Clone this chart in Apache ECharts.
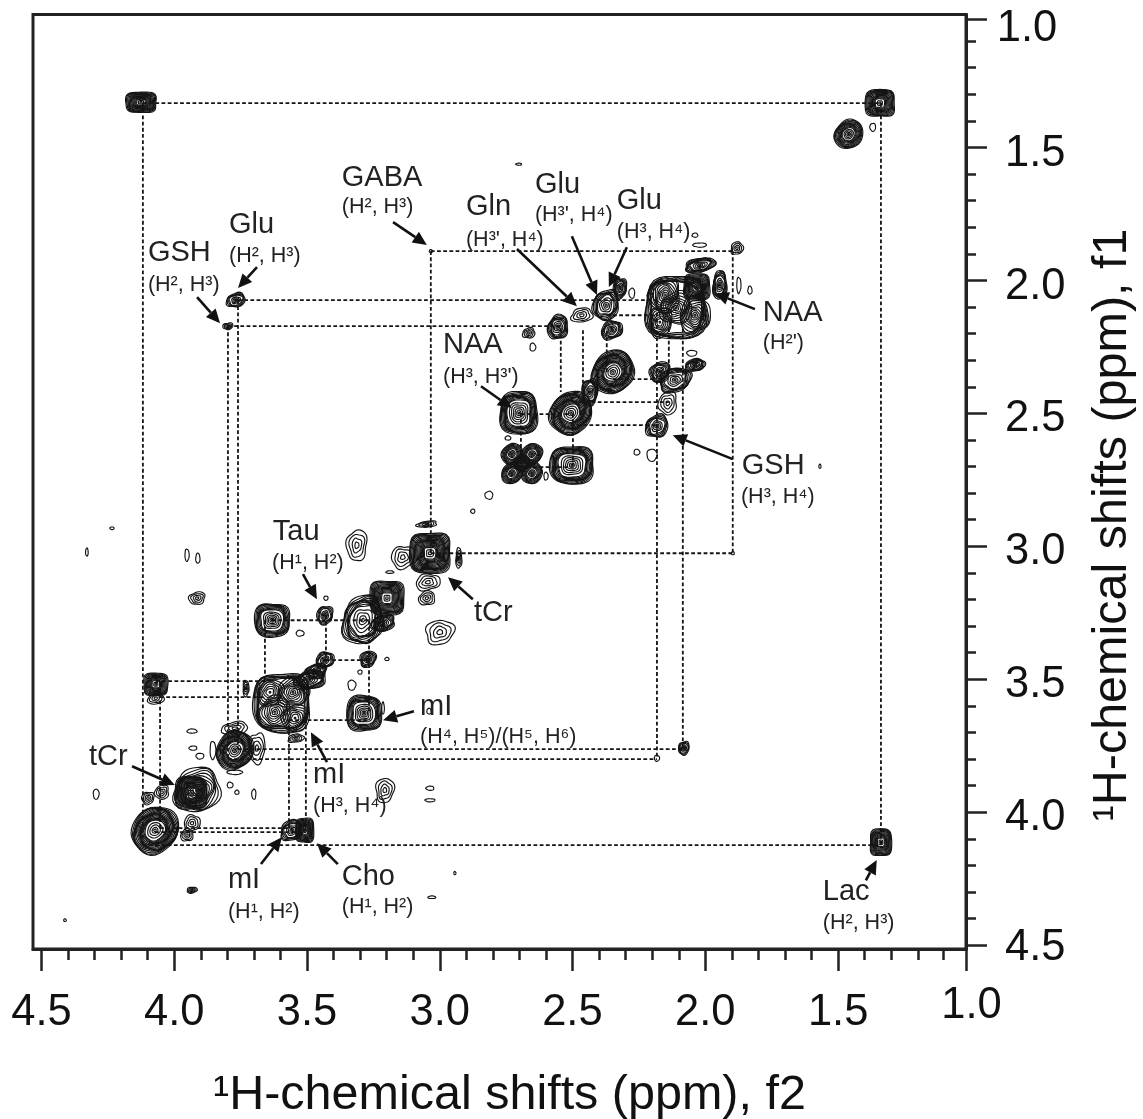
<!DOCTYPE html>
<html><head><meta charset="utf-8">
<style>html,body{margin:0;padding:0;background:#fff}#c{width:1143px;height:1119px}</style>
<script src="https://cdn.jsdelivr.net/npm/echarts@6/dist/echarts.min.js"></script>
</head><body><div id="c"></div>
<script>
// All peak rows: [f2 ppm, f1 ppm, half-width f2 ppm, half-width f1 ppm]
const squarePeaks = [
 [2.019,2.025,.049,.049],[3.029,3.026,.076,.075],[3.192,3.195,.064,.064],[3.934,3.928,.06,.06],
 [1.326,1.333,.055,.05],[4.123,1.33,.057,.038],[4.067,3.519,.045,.042],[1.322,4.113,.04,.05],[3.503,4.068,.034,.045]
];
const diamondPeaks = [
 [2.337,2.345,.082,.082],[2.496,2.499,.082,.082],[4.07,4.068,.09,.09],[3.768,3.767,.072,.074],[1.444,1.45,.055,.055],
 [2.719,2.653,.04,.04],[2.643,2.653,.04,.04],[2.719,2.725,.04,.04],[2.643,2.725,.04,.04],[2.681,2.687,.03,.03]
];
const roundPeaks = [
 [2.693,2.499,.07,.08],[2.492,2.695,.082,.07],[3.627,3.278,.066,.062],[3.279,3.628,.066,.066]
];
const widePeaks = [
 [2.098,2.104,.114,.117],[3.59,3.59,.106,.11]
];
const stripedPeaks = [
 [3.911,3.917,.087,.083],[2.14,2.055,.057,.068],[2.159,2.157,.045,.057],[2.026,2.131,.057,.068],
 [3.616,3.624,.06,.06],[3.54,3.646,.05,.05],[3.635,3.549,.05,.05],[3.548,3.549,.06,.056],[2.098,2.104,.06,.06]
];
const mediumPeaks = [
 [3.283,3.278,.076,.09],[2.363,2.093,.049,.056],[2.31,2.029,.025,.038],[2.341,2.187,.04,.034],[2.545,2.176,.038,.045],
 [2.159,2.345,.038,.038],[2.102,2.375,.06,.045],[2.026,2.319,.038,.023],[2.17,2.548,.042,.042],[2.424,2.42,.03,.05],
 [2.007,1.943,.057,.026],[1.932,2.018,.026,.053],[3.207,3.289,.045,.03],[3.427,3.259,.03,.034],[3.427,3.428,.034,.03],
 [3.484,3.503,.06,.035],[3.46,3.47,.04,.028],[3.264,3.424,.03,.03],[3.552,4.068,.042,.038],[3.764,2.074,.035,.026],[2.068,3.759,.02,.025]
];
const weakPeaks = [
 [2.454,2.131,.04,.026],[2.129,2.462,.034,.042],[3.132,3.041,.042,.042],[3.037,3.135,.045,.03],[3.041,3.195,.03,.026],
 [3.306,2.996,.038,.057],[2.992,3.323,.053,.045],[3.537,3.722,.03,.015],[3.768,3.684,.049,.023],[3.684,3.759,.03,.057],
 [3.726,3.534,.011,.03],[4.067,3.571,.03,.023],[4.044,3.925,.026,.026],[4.097,3.947,.023,.023],[3.93,4.041,.03,.03],
 [3.949,4.086,.023,.023],[3.911,3.195,.03,.023],[3.2,3.917,.034,.045],[1.867,1.879,.023,.023],[2.655,2.198,.023,.019],
 [3.794,2.172,.019,.012],[3.93,4.293,.019,.011],[2.92,3.045,.011,.038],[3.041,2.917,.038,.011]
];
const tinyPeaks = [
 [3.181,3.097,.015,.005],[2.867,2.868,.008,.008],[3.423,3.195,.008,.008],[3.521,3.327,.015,.011],[3.192,3.424,.008,.006],
 [3.294,3.473,.008,.008],[3.325,3.522,.015,.019],[3.207,3.609,.005,.023],[3.033,3.62,.008,.011],[3.768,3.85,.03,.008],
 [3.851,3.767,.011,.034],[3.93,3.695,.019,.008],[3.926,3.759,.015,.008],[3.9,3.789,.015,.011],[3.786,3.898,.011,.011],
 [3.76,3.925,.008,.008],[3.696,3.932,.008,.019],[4.293,3.932,.011,.019],[4.411,4.406,.005,.005],[4.328,3.022,.005,.015],
 [4.233,2.932,.008,.005],[3.949,3.033,.008,.023],[3.908,3.045,.008,.019],[3.029,3.91,.015,.008],[3.029,3.955,.019,.006],
 [2.935,4.229,.004,.006],[3.022,4.32,.015,.005],[2.265,2.048,.011,.019],[2.197,2.059,.011,.011],[2.64,2.251,.011,.015],
 [2.026,1.83,.011,.008],[2.008,1.867,.026,.008],[1.86,2.018,.008,.03],[1.818,2.037,.008,.015],[2.693,1.563,.011,.004],
 [2.038,2.274,.019,.011],[2.59,2.736,.008,.015],[2.734,2.593,.011,.008],[2.806,2.808,.015,.015],[2.189,2.657,.019,.023],
 [2.246,2.646,.011,.011],[1.553,2.699,.004,.008],[1.353,1.424,.011,.015],[2.17,3.797,.01,.011],[3.026,1.89,.006,.006],[1.883,3.026,.006,.006]
];
// Dashed connectors: [f1, f2 start, f2 end]
const horizontalGuides = [
 [1.333,4.116,1.322],[4.124,4.116,1.322],[1.89,3.026,1.883],[3.026,3.026,1.883],[2.074,3.756,2.17],[2.172,3.794,2.534],
 [3.8,3.794,2.17],[3.763,3.756,2.072],[2.131,2.36,2.17],[2.371,2.337,2.17],[2.458,2.488,2.125],[2.544,2.496,2.17],
 [2.503,2.685,2.496],[2.702,2.685,2.492],[3.278,3.627,3.26],[3.428,3.423,3.26],[3.654,3.563,3.26],[3.507,4.067,3.654],
 [3.567,4.051,3.654],[4.06,4.051,3.563],[4.075,4.07,3.5]
];
// Dashed connectors: [f2, f1 start, f1 end]
const verticalGuides = [
 [4.116,1.333,4.124],[1.322,1.333,4.124],[3.026,1.89,3.026],[1.883,1.89,3.026],[3.756,2.074,3.763],[3.794,2.172,3.8],
 [2.17,2.074,3.8],[2.072,2.18,3.763],[2.125,2.18,2.34],[2.534,2.18,2.42],[2.45,2.187,2.386],[2.36,2.19,2.345],
 [2.685,2.499,2.69],[2.488,2.5,2.7],[3.654,3.278,3.507],[3.423,3.26,3.43],[3.26,3.28,3.63],[4.051,3.51,4.07],
 [3.563,3.65,4.07],[3.499,3.65,4.07]
];
// Annotation arrows: [f2 from, f1 from, f2 to, f1 to]
const arrows = [
 [3.911,2.063,3.824,2.161],[3.684,1.95,3.756,2.029],[3.169,1.781,3.041,1.867],[2.7,1.882,2.473,2.097],[2.492,1.834,2.397,2.055],
 [2.284,1.875,2.352,2.025],[1.799,2.108,1.951,2.048],[2.836,2.398,2.719,2.48],[1.883,2.672,2.11,2.582],[3.51,3.105,3.457,3.199],
 [2.867,3.199,2.961,3.116],[3.09,3.62,3.207,3.654],[3.419,3.812,3.48,3.699],[4.157,3.827,3.995,3.898],[3.669,4.195,3.59,4.094],
 [3.378,4.195,3.457,4.117],[1.379,4.256,1.338,4.18]
];
const nameTexts = ['GSH','Glu','GABA','Gln','Glu','Glu','NAA','NAA','GSH','Tau','tCr','mI','mI','tCr','mI','Cho','Lac'];
const nameSpots = [[4.097,1.898],[3.79,1.792],[3.363,1.615],[2.893,1.725],[2.632,1.642],[2.322,1.702],[1.769,2.123],[2.98,2.244],
 [1.849,2.699],[3.624,2.947],[2.863,3.251],[3.067,3.605],[3.472,3.861],[4.32,3.793],[3.794,4.256],[3.363,4.244],[1.542,4.301]];
const subTexts = ['(H², H³)','(H², H³)','(H², H³)',"(H³', H⁴)","(H³', H⁴)",'(H³, H⁴)',"(H²')","(H³, H³')",'(H³, H⁴)','(H¹, H²)',
 '(H⁴, H⁵)/(H⁵, H⁶)','(H³, H⁴)','(H¹, H²)','(H¹, H²)','(H², H³)'];
const subSpots = [[4.097,2.018],[3.79,1.909],[3.363,1.725],[2.893,1.849],[2.632,1.755],[2.322,1.819],[1.769,2.236],[2.98,2.364],
 [1.852,2.815],[3.627,3.063],[3.067,3.718],[3.472,3.977],[3.794,4.376],[3.363,4.357],[1.542,4.417]];
// Axis ticks, at the places they are printed in the figure
const xMajor = [4.5,3.997,3.495,2.992,2.49,1.987,1.484,1.0];
const xLabelled = [4.5,3.997,3.495,2.992,2.49,1.987,1.484];
const xMinor = [4.3995,4.2989,4.1984,4.0979,3.8968,3.7963,3.6958,3.5952,3.3942,3.2936,3.1931,3.0926,2.8915,2.791,2.6905,2.5899,2.3889,2.2883,2.1878,2.0873,1.8862,1.7857,1.6852,1.5846,1.3836,1.283,1.1825,1.088];
const yMajor = [1.018,1.5,2.0,2.5,3.0,3.5,4.0,4.5];
const yLabelled = [1.524,2.023,2.52,3.02,3.52,4.02,4.51];
const yMinor = [1.1,1.2,1.3,1.4,1.6,1.7,1.8,1.9,2.1,2.2,2.3,2.4,2.6,2.7,2.8,2.9,3.1,3.2,3.3,3.4,3.6,3.7,3.8,3.9,4.1,4.2,4.3,4.4];
const xTitle = '¹H-chemical shifts (ppm), f2';
const yTitle = '¹H-chemical shifts (ppm), f1';
const endTick = '1.0';

const INK = '#141414', FONT = '"Liberation Sans", Arial, sans-serif';
const looks = {
 square:{exp:4.5,wob:.02,shear:0,to:.28,step:.9,inner:[.17,.07]},
 diamond:{exp:1.9,wob:.03,shear:.14,to:.42,step:.9,inner:[.32,.22,.12,.05]},
 round:{exp:3.2,wob:.03,shear:0,to:.6,step:.9,inner:[.49,.39,.29,.2,.11,.04]},
 wide:{exp:3.4,wob:.035,shear:0,to:.8,step:.9,inner:[]},
 striped:{exp:2.2,wob:.07,shear:.1,to:.15,step:1.9,inner:[.06]},
 medium:{exp:2.3,wob:.07,shear:.16,to:.62,step:.9,inner:[.46,.32,.18,.07]},
 weak:{exp:2.3,wob:.08,shear:.1,to:1,step:9,inner:[.74,.46,.2]},
 tiny:{exp:2,wob:.05,shear:0,to:1,step:9,inner:[]}
};
function contourSeries(rows,look){
 return {type:'custom',coordinateSystem:'cartesian2d',xAxisIndex:0,yAxisIndex:0,silent:true,clip:true,animation:false,
  data:rows,encode:{x:0,y:1},
  renderItem(params,api){
   const cx=api.value(0),cy=api.value(1),wx=api.value(2),wy=api.value(3),idx=params.dataIndex,children=[];
   const frac=look.step/(Math.max(wx,wy)*265),levels=[];
   for(let v=1;v>=look.to-1e-6;v-=frac)levels.push(v);
   look.inner.forEach(v=>levels.push(v));
   levels.forEach((lv,k)=>{
    const pts=[],N=36;
    for(let i=0;i<N;i++){
     const t=i/N*2*Math.PI,c=Math.cos(t),s=Math.sin(t);
     const base=Math.pow(Math.pow(Math.abs(c),look.exp)+Math.pow(Math.abs(s),look.exp),-1/look.exp);
     const lobes=1+look.wob*Math.sin(3*t+idx*1.7+k*.9)+look.wob*.6*Math.sin(5*t+idx*.6-k*.5);
     const r=base*lobes*lv,dx=wx*r*c,dy=wy*r*s;
     pts.push(api.coord([cx+dx,cy+dy+look.shear*dx]));
    }
    children.push({type:'polygon',shape:{points:pts},style:{fill:null,stroke:INK,lineWidth:1.15}});
   });
   return {type:'group',children};
  }};
}
function guideSeries(rows,horizontal){
 return {type:'custom',coordinateSystem:'cartesian2d',xAxisIndex:0,yAxisIndex:0,silent:true,animation:false,z:3,
  data:rows,encode:horizontal?{x:[1,2],y:0}:{x:0,y:[1,2]},
  renderItem(params,api){
   const a=api.value(0),b=api.value(1),c=api.value(2);
   const p=horizontal?api.coord([b,a]):api.coord([a,b]),q=horizontal?api.coord([c,a]):api.coord([a,c]);
   return {type:'line',shape:{x1:p[0],y1:p[1],x2:q[0],y2:q[1]},style:{stroke:INK,lineWidth:1.8,lineDash:[3.8,2.4],fill:null}};
  }};
}
const arrowSeries={type:'custom',coordinateSystem:'cartesian2d',xAxisIndex:0,yAxisIndex:0,silent:true,animation:false,z:6,
 data:arrows,encode:{x:[0,2],y:[1,3]},
 renderItem(params,api){
  const p=api.coord([api.value(0),api.value(1)]),q=api.coord([api.value(2),api.value(3)]);
  const dx=q[0]-p[0],dy=q[1]-p[1],L=Math.hypot(dx,dy),ux=dx/L,uy=dy/L,hl=14,hw=6.5;
  const bx=q[0]-ux*hl,by=q[1]-uy*hl;
  return {type:'group',children:[
   {type:'line',shape:{x1:p[0],y1:p[1],x2:bx,y2:by},style:{stroke:'#111',lineWidth:2.6,fill:null}},
   {type:'polygon',shape:{points:[q,[bx-uy*hw,by+ux*hw],[bx+uy*hw,by-ux*hw]]},style:{fill:'#111',stroke:null}}
  ]};
 }};
function textSeries(spots,texts,size){
 return {type:'custom',coordinateSystem:'cartesian2d',xAxisIndex:0,yAxisIndex:0,silent:true,animation:false,z:7,
  data:spots,encode:{x:0,y:1},
  renderItem(params,api){
   const p=api.coord([api.value(0),api.value(1)]);
   return {type:'text',style:{text:texts[params.dataIndex],x:p[0],y:p[1],fill:'#222',font:size+'px '+FONT,textAlign:'left',textVerticalAlign:'middle'}};
  }};
}
const fmt=v=>(Math.round(Number(v)*2)/2).toFixed(1);
const fmtDown=v=>(Math.floor(Number(v)*2)/2).toFixed(1);
const axisFont={fontFamily:FONT,color:'#111',fontSize:43.5};
const chart=echarts.init(document.getElementById('c'),null,{renderer:'canvas'});
chart.setOption({
 animation:false,backgroundColor:'#fff',
 grid:{left:33,top:14.5,width:933,height:934.5,show:true,borderColor:'#222',borderWidth:3,backgroundColor:'transparent',containLabel:false},
 xAxis:[
  {type:'value',inverse:true,min:1.0,max:4.532,position:'bottom',splitLine:{show:false},
   axisLine:{show:true,lineStyle:{color:'#222',width:3}},
   axisTick:{show:true,customValues:xMajor,length:22,lineStyle:{color:'#222',width:2.5}},
   axisLabel:{show:true,customValues:xLabelled,formatter:fmt,margin:42,...axisFont}},
  {type:'value',inverse:true,min:1.0,max:4.532,position:'bottom',splitLine:{show:false},
   axisLine:{show:false},
   axisTick:{show:true,customValues:xMinor,length:11,lineStyle:{color:'#222',width:2.5}},
   axisLabel:{show:false}}
 ],
 yAxis:[
  {type:'value',inverse:true,min:1.0,max:4.5144,position:'right',splitLine:{show:false},
   axisLine:{show:true,lineStyle:{color:'#222',width:3}},
   axisTick:{show:true,customValues:yMajor,length:21,lineStyle:{color:'#222',width:2.5}},
   axisLabel:{show:true,customValues:yLabelled,formatter:fmtDown,margin:39,...axisFont}},
  {type:'value',inverse:true,min:1.0,max:4.5144,position:'right',splitLine:{show:false},
   axisLine:{show:false},
   axisTick:{show:true,customValues:yMinor,length:10,lineStyle:{color:'#222',width:2.5}},
   axisLabel:{show:false}}
 ],
 graphic:[
  {type:'text',x:213,y:1096,silent:true,style:{text:xTitle,fill:'#111',font:'48.5px '+FONT,textVerticalAlign:'middle'}},
  {type:'text',x:1113,y:525,rotation:Math.PI/2,silent:true,style:{text:yTitle,fill:'#111',font:'48.5px '+FONT,textAlign:'center',textVerticalAlign:'middle'}},
  {type:'text',x:971.5,y:1006,silent:true,style:{text:endTick,fill:'#111',font:'43.5px '+FONT,textAlign:'center',textVerticalAlign:'middle'}},
  {type:'text',x:1027,y:29,silent:true,style:{text:endTick,fill:'#111',font:'43.5px '+FONT,textAlign:'center',textVerticalAlign:'middle'}}
 ],
 series:[
  guideSeries(horizontalGuides,true),guideSeries(verticalGuides,false),
  contourSeries(tinyPeaks,looks.tiny),contourSeries(weakPeaks,looks.weak),contourSeries(mediumPeaks,looks.medium),
  contourSeries(widePeaks,looks.wide),contourSeries(stripedPeaks,looks.striped),
  contourSeries(roundPeaks,looks.round),contourSeries(diamondPeaks,looks.diamond),contourSeries(squarePeaks,looks.square),
  arrowSeries,textSeries(nameSpots,nameTexts,29),textSeries(subSpots,subTexts,21.5)
 ]
});
</script></body></html>
